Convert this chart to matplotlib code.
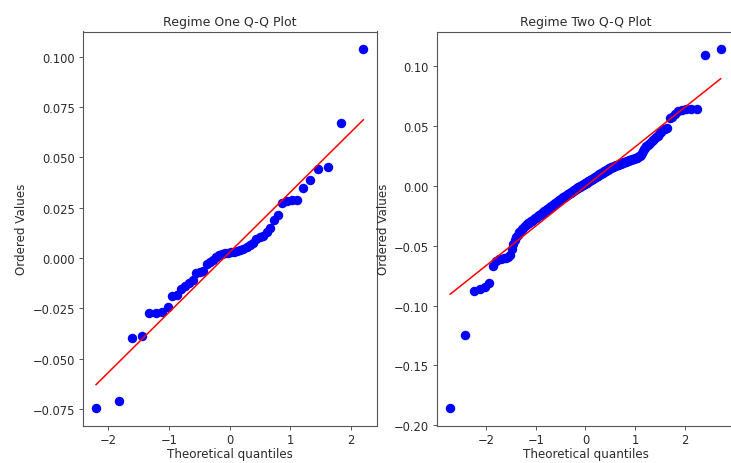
import matplotlib
matplotlib.use("Agg")
import matplotlib.pyplot as plt
import numpy as np
from statistics import NormalDist

titles = ["Regime One Q-Q Plot", "Regime Two Q-Q Plot"]
xlabel = "Theoretical quantiles"
ylabel = "Ordered Values"

regime_one = [
    -0.0743, -0.0711, -0.0395, -0.0388, -0.0270, -0.0270, -0.0268, -0.0245, -0.0190, -0.0185,
    -0.0155, -0.0140, -0.0122, -0.0110, -0.0075, -0.0071, -0.0062, -0.0030, -0.0018, -0.0010,
    0.0005, 0.0014, 0.0020, 0.0025, 0.0026, 0.0028, 0.0032, 0.0036, 0.0040, 0.0046,
    0.0054, 0.0064, 0.0076, 0.0096, 0.0104, 0.0112, 0.0129, 0.0149, 0.0188, 0.0216,
    0.0272, 0.0282, 0.0286, 0.0289, 0.0347, 0.0389, 0.0442, 0.0450, 0.0670, 0.1036,
]

regime_two = [
    -0.1853, -0.1250, -0.0875, -0.0866, -0.0848, -0.0812, -0.0668, -0.0632, -0.0616, -0.0610,
    -0.0605, -0.0600, -0.0592, -0.0575, -0.0525, -0.0485, -0.0452, -0.0428, -0.0408, -0.0390,
    -0.0375, -0.0362, -0.0350, -0.0339, -0.0329, -0.0320, -0.0314, -0.0308, -0.0302, -0.0297,
    -0.0291, -0.0285, -0.0279, -0.0273, -0.0267, -0.0260, -0.0254, -0.0248, -0.0241, -0.0235,
    -0.0230, -0.0225, -0.0220, -0.0215, -0.0210, -0.0205, -0.0200, -0.0196, -0.0191, -0.0186,
    -0.0182, -0.0177, -0.0173, -0.0168, -0.0164, -0.0160, -0.0156, -0.0151, -0.0147, -0.0143,
    -0.0139, -0.0135, -0.0131, -0.0126, -0.0122, -0.0118, -0.0114, -0.0110, -0.0106, -0.0102,
    -0.0098, -0.0094, -0.0091, -0.0087, -0.0083, -0.0080, -0.0077, -0.0074, -0.0071, -0.0068,
    -0.0065, -0.0061, -0.0058, -0.0054, -0.0051, -0.0047, -0.0044, -0.0040, -0.0037, -0.0033,
    -0.0030, -0.0027, -0.0024, -0.0021, -0.0018, -0.0015, -0.0012, -0.0009, -0.0006, -0.0003,
    0.0000, 0.0003, 0.0006, 0.0008, 0.0011, 0.0014, 0.0017, 0.0020, 0.0023, 0.0026,
    0.0029, 0.0032, 0.0035, 0.0038, 0.0040, 0.0043, 0.0046, 0.0049, 0.0052, 0.0056,
    0.0059, 0.0062, 0.0065, 0.0068, 0.0071, 0.0075, 0.0078, 0.0081, 0.0084, 0.0087,
    0.0091, 0.0094, 0.0097, 0.0100, 0.0103, 0.0106, 0.0109, 0.0112, 0.0115, 0.0118,
    0.0121, 0.0124, 0.0127, 0.0130, 0.0134, 0.0137, 0.0140, 0.0144, 0.0147, 0.0150,
    0.0152, 0.0154, 0.0157, 0.0159, 0.0161, 0.0164, 0.0166, 0.0168, 0.0171, 0.0173,
    0.0176, 0.0178, 0.0180, 0.0183, 0.0186, 0.0188, 0.0190, 0.0193, 0.0195, 0.0198,
    0.0200, 0.0203, 0.0205, 0.0208, 0.0210, 0.0213, 0.0216, 0.0218, 0.0221, 0.0224,
    0.0227, 0.0230, 0.0234, 0.0238, 0.0243, 0.0248, 0.0256, 0.0270, 0.0290, 0.0305,
    0.0315, 0.0327, 0.0338, 0.0348, 0.0358, 0.0368, 0.0380, 0.0392, 0.0405, 0.0416,
    0.0428, 0.0445, 0.0470, 0.0476, 0.0484, 0.0565, 0.0575, 0.0595, 0.0620, 0.0632,
    0.0638, 0.0642, 0.0643, 0.1086, 0.1136,
]


def theoretical_quantiles(n):
    # Filliben order-statistic medians, as used by scipy.stats.probplot
    m = np.empty(n)
    m[-1] = 0.5 ** (1.0 / n)
    m[0] = 1 - m[-1]
    i = np.arange(2, n)
    m[1:-1] = (i - 0.3175) / (n + 0.365)
    nd = NormalDist()
    return np.array([nd.inv_cdf(p) for p in m])


W, H = 731, 464
DPI = 100
fig = plt.figure(figsize=(W / DPI, H / DPI), dpi=DPI)

TXT = "#2a2a2a"
SPINE = "#555555"

bottom = 1 - 426.7 / H
height = (426.7 - 32.5) / H
ax1 = fig.add_axes([82.7 / W, bottom, 294 / W, height])
ax2 = fig.add_axes([436.7 / W, bottom, 297.5 / W, height])

fs_tick = 8.3
fs_label = 8.6
fs_title = 9.0

for ax, data, title in zip([ax1, ax2], [regime_one, regime_two], titles):
    y = np.sort(np.array(data))
    x = theoretical_quantiles(len(y))
    slope, intercept = np.polyfit(x, y, 1)
    ax.plot(x, y, "o", color="blue", markersize=5.8)
    ax.plot(x, slope * x + intercept, "-", color="red", linewidth=1.1)
    ax.set_title(title, fontsize=fs_title, pad=5, color=TXT)
    ax.set_xlabel(xlabel, fontsize=fs_label, labelpad=0.3, color=TXT)
    ax.set_ylabel(ylabel, fontsize=fs_label, labelpad=3, color=TXT)
    ax.tick_params(labelsize=fs_tick, width=0.7, length=3, pad=2.5,
                   colors=SPINE, labelcolor=TXT)
    for s in ax.spines.values():
        s.set_linewidth(0.8)
        s.set_color(SPINE)

fig.savefig("out.png", dpi=DPI)
